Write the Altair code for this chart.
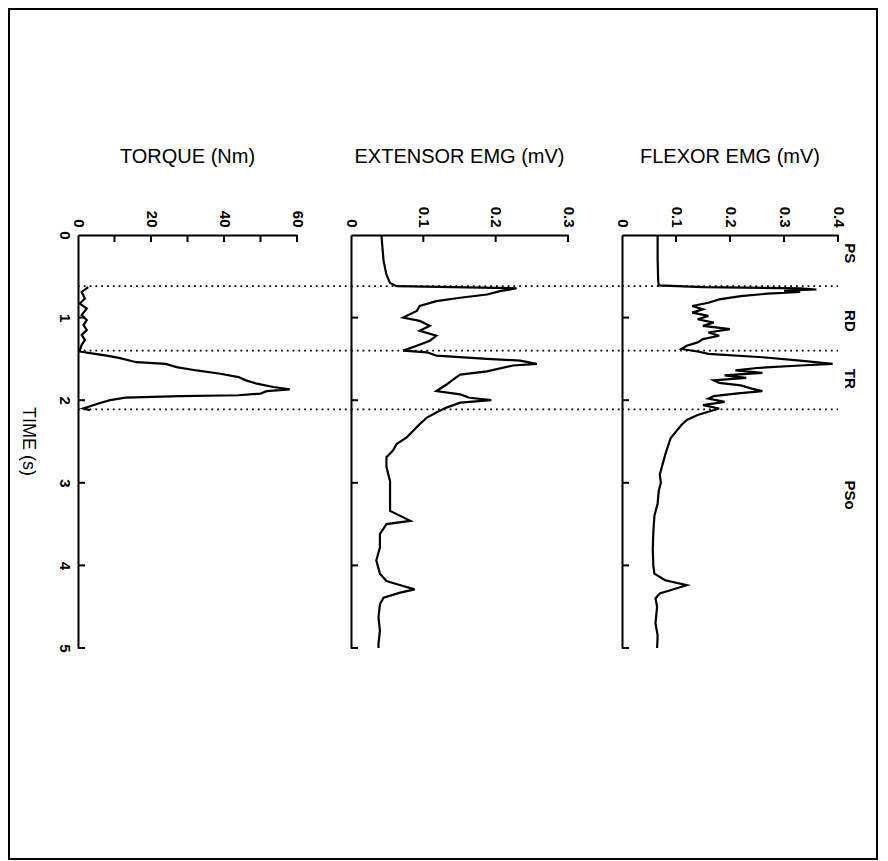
import altair as alt
import pandas as pd

# ---------------- data ----------------
torque_t = [0.63, 0.69, 0.77, 0.83, 0.89, 0.97, 1.03, 1.09, 1.15, 1.21, 1.27, 1.33, 1.41,
            1.43, 1.46, 1.49, 1.54, 1.56, 1.60, 1.64, 1.68, 1.72, 1.76, 1.80, 1.84, 1.87,
            1.89, 1.92, 1.94, 1.95, 1.97, 2.00, 2.04, 2.10, 2.12]
torque_v = [2.8, 1.0, 1.9, 0.5, 2.4, 1.0, 2.4, 1.5, 2.4, 1.0, 1.9, 1.0, 0.4,
            3.3, 7.9, 11.5, 16.0, 24.0, 27.0, 32.5, 39.0, 44.0, 46.0, 49.0, 53.5, 58.0,
            51.7, 50.0, 44.0, 28.0, 13.0, 8.8, 5.6, 1.5, 3.3]

ext_t = [0.0, 0.31, 0.48, 0.58, 0.62, 0.63, 0.645, 0.68, 0.72, 0.76, 0.80, 0.86, 0.92,
         1.00, 1.04, 1.10, 1.16, 1.22, 1.28, 1.34, 1.40, 1.42, 1.46, 1.50, 1.52, 1.56,
         1.58, 1.65, 1.69, 1.75, 1.81, 1.89, 1.93, 1.97, 2.00, 2.03, 2.09, 2.15, 2.21,
         2.29, 2.37, 2.45, 2.53, 2.61, 2.69, 2.81, 2.98, 3.14, 3.34, 3.46, 3.50, 3.62,
         3.78, 3.94, 4.10, 4.19, 4.25, 4.29, 4.33, 4.39, 4.47, 4.63, 4.79, 4.95, 5.0]
ext_v = [0.042, 0.045, 0.049, 0.054, 0.063, 0.141, 0.229, 0.206, 0.188, 0.151, 0.118, 0.095, 0.091,
         0.072, 0.095, 0.109, 0.095, 0.118, 0.109, 0.091, 0.072, 0.105, 0.118, 0.188, 0.234, 0.257,
         0.224, 0.188, 0.151, 0.141, 0.132, 0.118, 0.151, 0.164, 0.194, 0.151, 0.132, 0.118, 0.105,
         0.095, 0.086, 0.077, 0.063, 0.058, 0.049, 0.049, 0.054, 0.054, 0.054, 0.082, 0.049, 0.040,
         0.040, 0.035, 0.040, 0.049, 0.072, 0.088, 0.068, 0.045, 0.040, 0.038, 0.040, 0.038, 0.038]

flex_t = [0.0, 0.3, 0.55, 0.61, 0.63, 0.645, 0.66, 0.675, 0.69, 0.71, 0.74, 0.78, 0.82, 0.86,
          0.90, 0.94, 0.98, 1.02, 1.06, 1.10, 1.14, 1.18, 1.22, 1.26, 1.30, 1.34, 1.38, 1.41,
          1.44, 1.48, 1.52, 1.56, 1.58, 1.61, 1.64, 1.67, 1.70, 1.73, 1.76, 1.79, 1.82, 1.86,
          1.89, 1.92, 1.95, 1.98, 2.02, 2.06, 2.10, 2.14, 2.18, 2.24, 2.30, 2.38, 2.46, 2.56,
          2.66, 2.78, 2.90, 3.00, 3.10, 3.25, 3.40, 3.60, 3.80, 4.00, 4.10, 4.18, 4.24, 4.28,
          4.34, 4.40, 4.50, 4.70, 4.85, 5.0]
flex_v = [0.066, 0.066, 0.067, 0.068, 0.15, 0.33, 0.36, 0.30, 0.33, 0.27, 0.22, 0.18, 0.16, 0.13,
          0.15, 0.13, 0.16, 0.14, 0.17, 0.15, 0.20, 0.16, 0.18, 0.15, 0.14, 0.12, 0.11, 0.14,
          0.16, 0.26, 0.33, 0.39, 0.33, 0.25, 0.21, 0.26, 0.19, 0.23, 0.17, 0.18, 0.22, 0.24,
          0.26, 0.21, 0.17, 0.16, 0.19, 0.15, 0.18, 0.16, 0.14, 0.12, 0.11, 0.10, 0.09, 0.085,
          0.08, 0.075, 0.07, 0.072, 0.068, 0.066, 0.06, 0.058, 0.057, 0.058, 0.06, 0.08, 0.12, 0.10,
          0.07, 0.062, 0.065, 0.062, 0.066, 0.065]

phase_t = [0.62, 1.40, 2.11]
phase_labels = ["PS", "RD", "TR", "PSo"]
phase_label_t = [0.22, 1.04, 1.74, 3.15]

time_ticks = [0, 1, 2, 3, 4, 5]
torque_ticks = [10, 20, 30, 40, 50, 60]
torque_labels = [0, 20, 40, 60]
ext_ticks = [0.1, 0.2, 0.3]
ext_labels = [0, 0.1, 0.2, 0.3]
flex_ticks = [0.1, 0.2, 0.3, 0.4]
flex_labels = [0, 0.1, 0.2, 0.3, 0.4]

titles = ["TORQUE (Nm)", "EXTENSOR EMG (mV)", "FLEXOR EMG (mV)"]
time_title = "TIME (s)"

# ---------------- layout ----------------
H = 413
GAP = 54
FONT = "Liberation Sans"


def panel(t, v, xmax, ticks, labels, title, width, first=False, last=False):
    xs = alt.Scale(domain=[0, xmax], nice=False, zero=True)
    ys = alt.Scale(domain=[0, 5], nice=False, reverse=True)
    df = pd.DataFrame({"t": t, "v": v, "i": list(range(len(t)))})

    line = alt.Chart(df).mark_line(color="black", strokeWidth=2.2).encode(
        x=alt.X("v:Q", scale=xs, axis=alt.Axis(
            orient="top", values=labels, title=None, format="~r",
            labelAngle=90, labelAlign="right", labelBaseline="middle", labelPadding=8)),
        y=alt.Y("t:Q", scale=ys, axis=alt.Axis(
            orient="left", values=time_ticks, title=None, format="~r", labels=first,
            labelAngle=90, labelAlign="center", labelBaseline="top", labelPadding=7)),
        order="i:Q",
    )

    xt = alt.Chart(pd.DataFrame({"v": ticks})).mark_rule(color="black", strokeWidth=2).encode(
        x=alt.X("v:Q", scale=xs), y=alt.value(0), y2=alt.value(7))
    yt = alt.Chart(pd.DataFrame({"t": time_ticks[1:]})).mark_rule(color="black", strokeWidth=2).encode(
        y=alt.Y("t:Q", scale=ys), x=alt.value(0), x2=alt.value(7))

    x2 = width if last else width + GAP
    dots = alt.Chart(pd.DataFrame({"t": phase_t})).mark_rule(
        color="black", strokeWidth=1.8, strokeDash=[1.8, 4]).encode(
        y=alt.Y("t:Q", scale=ys), x=alt.value(0), x2=alt.value(x2))

    ttl = alt.Chart(pd.DataFrame({"s": [title]})).mark_text(
        font=FONT, fontSize=20, color="black", align="center", baseline="middle").encode(
        x=alt.value(width / 2), y=alt.value(-78), text="s:N")

    layers = [line, dots, xt, yt, ttl]

    if last:
        lab = alt.Chart(pd.DataFrame({"t": phase_label_t, "s": phase_labels})).mark_text(
            angle=90, font=FONT, fontSize=15, fontWeight="bold", color="black",
            align="center", baseline="middle").encode(
            y=alt.Y("t:Q", scale=ys), x=alt.value(width + 12), text="s:N")
        layers.append(lab)

    if first:
        frame = alt.Chart(pd.DataFrame({"a": [0]})).mark_rect(
            fillOpacity=0, stroke="black", strokeWidth=2).encode(
            x=alt.value(-69), x2=alt.value(799), y=alt.value(-226), y2=alt.value(624))
        tl = alt.Chart(pd.DataFrame({"s": [time_title]})).mark_text(
            angle=90, font=FONT, fontSize=18, color="black",
            align="center", baseline="middle").encode(
            x=alt.value(-50), y=alt.value(H / 2), text="s:N")
        layers += [frame, tl]

    return alt.layer(*layers).properties(width=width, height=H)


p1 = panel(torque_t, torque_v, 60, torque_ticks, torque_labels, titles[0], 219, first=True)
p2 = panel(ext_t, ext_v, 0.3, ext_ticks, ext_labels, titles[1], 217)
p3 = panel(flex_t, flex_v, 0.4, flex_ticks, flex_labels, titles[2], 216, last=True)

chart = alt.hconcat(p1, p2, p3, spacing=GAP, bounds="flush").configure(
    padding=0, background="white"
).configure_view(stroke=None).configure_axis(
    domain=True, domainColor="black", domainWidth=2, ticks=False, grid=False,
    labelFont=FONT, labelFontSize=15, labelFontWeight="bold", labelColor="black",
    labelFlush=False, labelOverlap=False, labelBound=False, title=None,
)

chart.save("out.html", embed_options={"renderer": "svg", "actions": False})
